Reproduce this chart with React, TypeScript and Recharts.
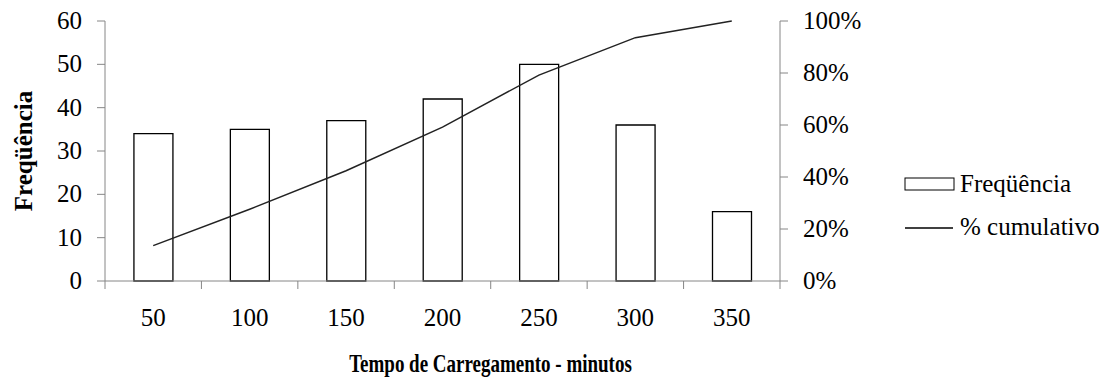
import {
  ComposedChart,
  Bar,
  Line,
  XAxis,
  YAxis,
  Legend
} from 'recharts'

const categories = ['50', '100', '150', '200', '250', '300', '350']
const frequencia = [34, 35, 37, 42, 50, 36, 16]
const cumulativo = [13.6, 27.6, 42.4, 59.2, 79.2, 93.6, 100]
const leftTicks = [0, 10, 20, 30, 40, 50, 60]
const rightTicks = [0, 20, 40, 60, 80, 100]

const data = categories.map((c, i) => ({
  tempo: c,
  freq: frequencia[i],
  cum: cumulativo[i]
}))

const FONT = '"Liberation Serif", "Times New Roman", serif'
const AXIS = '#868686'
const textStyle = { fontFamily: FONT, fontSize: 25 }
const X_TICK = 8
const X_MARGIN = 20

// category label plus a tick mark on the category boundary (Excel style)
const XTick = (props: any) => {
  const { x, y, payload, index, width, visibleTicksCount } = props
  const band = width / visibleTicksCount
  const axisY = y - X_TICK - X_MARGIN
  const last = index === visibleTicksCount - 1
  return (
    <g>
      <line x1={x - band / 2} x2={x - band / 2} y1={axisY} y2={axisY + X_TICK} stroke={AXIS} />
      {last && (
        <line x1={x + band / 2} x2={x + band / 2} y1={axisY} y2={axisY + X_TICK} stroke={AXIS} />
      )}
      <text x={x} y={y + 17} textAnchor='middle' style={textStyle} fill='#000'>
        {payload.value}
      </text>
    </g>
  )
}

const LeftTick = (props: any) => {
  const { x, y, payload } = props
  return (
    <text x={x} y={y + 8} textAnchor='end' style={textStyle} fill='#000'>
      {payload.value}
    </text>
  )
}

const RightTick = (props: any) => {
  const { x, y, payload } = props
  return (
    <text x={x} y={y + 8} textAnchor='start' style={textStyle} fill='#000'>
      {`${payload.value}%`}
    </text>
  )
}

const YTitle = (props: any) => {
  const { viewBox } = props
  const x = viewBox.x + 23
  const y = viewBox.y + viewBox.height / 2
  return (
    <text
      x={x}
      y={y}
      transform={`rotate(-90, ${x}, ${y})`}
      textAnchor='middle'
      dominantBaseline='central'
      style={{ ...textStyle, fontWeight: 'bold' }}
      fill='#000'
    >
      Freqüência
    </text>
  )
}

const XTitle = (props: any) => {
  const { viewBox } = props
  const cx = viewBox.x + viewBox.width / 2 + 48
  return (
    <g transform={`translate(${cx}, 372) scale(0.76, 1)`}>
      <text
        x={0}
        y={0}
        textAnchor='middle'
        style={{ ...textStyle, fontWeight: 'bold' }}
        fill='#000'
      >
        Tempo de Carregamento - minutos
      </text>
    </g>
  )
}

const LegendBox = () => (
  <svg width={214} height={80}>
    <rect x={5} y={18} width={49} height={12} fill='#fff' stroke='#000' strokeWidth={1} />
    <text x={60} y={32} style={textStyle} fill='#000'>
      Freqüência
    </text>
    <line x1={5} x2={53} y1={68} y2={68} stroke='#000' strokeWidth={1.3} />
    <text x={60} y={75} style={textStyle} fill='#000'>
      % cumulativo
    </text>
  </svg>
)

const App = () => {
  return (
    <div style={{ position: 'absolute', left: 0, top: 0, background: '#fff', fontFamily: FONT }}>
      <ComposedChart
        width={1114}
        height={381}
        data={data}
        barCategoryGap='30%'
        style={{ fontFamily: FONT }}
        margin={{ top: 21, right: 214, bottom: 40, left: 0 }}
      >
        <XAxis
          dataKey='tempo'
          stroke={AXIS}
          tickLine={false}
          tickSize={X_TICK}
          tickMargin={X_MARGIN}
          height={60}
          tick={<XTick />}
          interval={0}
          label={XTitle}
        />
        <YAxis
          yAxisId='left'
          width={105}
          domain={[0, 60]}
          ticks={leftTicks}
          tickSize={8}
          tickMargin={15}
          stroke={AXIS}
          tick={<LeftTick />}
          interval={0}
          label={YTitle}
        />
        <YAxis
          yAxisId='right'
          orientation='right'
          width={120}
          domain={[0, 100]}
          ticks={rightTicks}
          tickSize={8}
          tickMargin={15}
          stroke={AXIS}
          tick={<RightTick />}
          interval={0}
        />
        <Legend
          layout='horizontal'
          verticalAlign='middle'
          align='center'
          content={LegendBox}
          wrapperStyle={{ left: 900, top: 160, width: 214, height: 80 }}
        />
        <Bar
          yAxisId='left'
          dataKey='freq'
          name='Freqüência'
          fill='#fff'
          stroke='#000'
          strokeWidth={1.3}
          isAnimationActive={false}
        />
        <Line
          yAxisId='right'
          dataKey='cum'
          name='% cumulativo'
          type='linear'
          stroke='#222'
          strokeWidth={1.5}
          dot={false}
          isAnimationActive={false}
        />
      </ComposedChart>
    </div>
  )
}

export default App
